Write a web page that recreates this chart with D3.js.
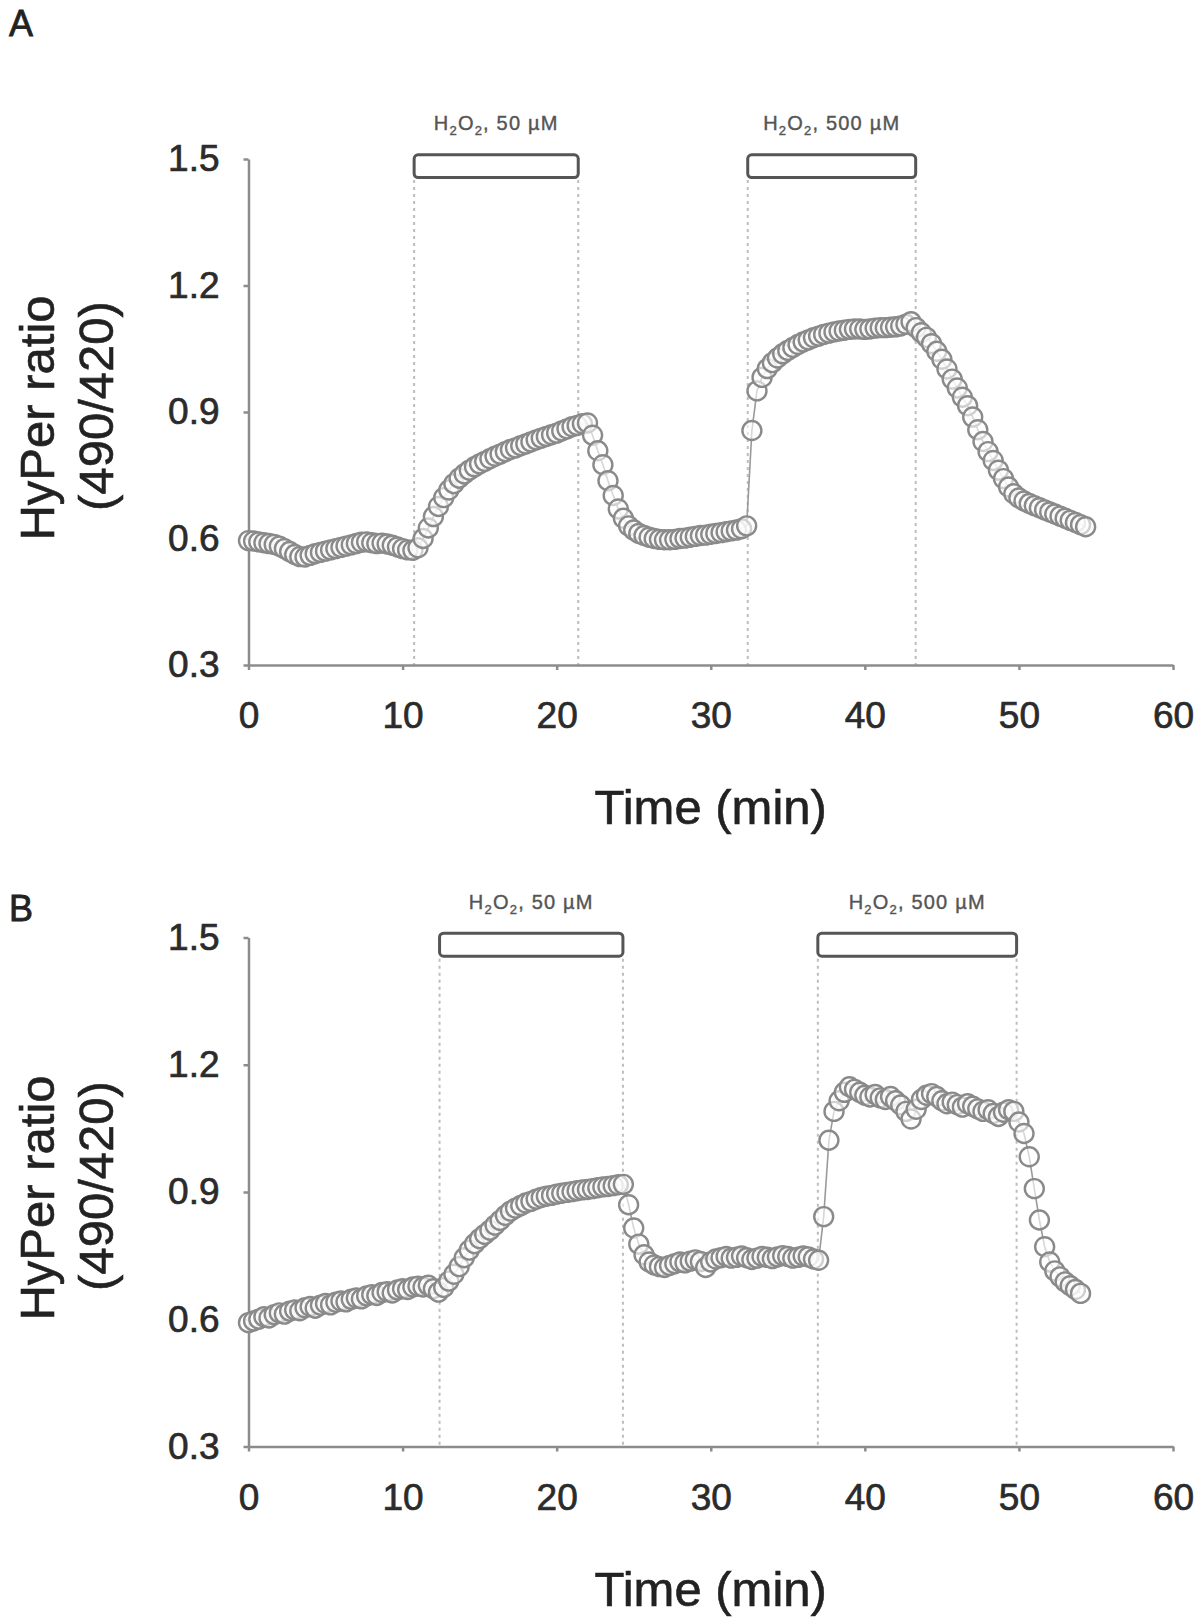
<!DOCTYPE html>
<meta charset="utf-8">
<head>
	<style>
		html, body { margin: 0; background: white; }
		body { font-family: Arial, "Liberation Sans", sans-serif; }
		.axis path, .axis line { stroke: #8c8c8c; stroke-width: 2.5; }
		.axis text { font-size: 37px; fill: #2b2b2b; stroke: #2b2b2b; stroke-width: 0.7; font-family: Arial, "Liberation Sans", sans-serif; }
		.title { font-size: 49px; fill: #222; stroke: #222; stroke-width: 0.6; }
		.panelLabel { font-size: 36px; fill: #222; stroke: #222; stroke-width: 0.8; }
		.drug { font-size: 20px; fill: #555; stroke: #555; stroke-width: 0.4; letter-spacing: 1.2px; }
		.bar { fill: white; stroke: #555; stroke-width: 3; }
		.guide { stroke: #bdbdbd; stroke-width: 2; stroke-dasharray: 3,4; }
		.trace { fill: none; stroke: #9a9a9a; stroke-width: 1.6; }
		.dot { fill: white; fill-opacity: 0.6; stroke: #8a8a8a; stroke-width: 2.4; }
	</style>
	<script src="https://d3js.org/d3.v7.min.js"></script>
</head>
<body>
<script>

// DATA
var xTicks = [0, 10, 20, 30, 40, 50, 60];
var yTicks = [0.3, 0.6, 0.9, 1.2, 1.5];
var panelNames = ["A", "B"];

// [time (min), HyPer ratio]
var pointsA = [
	[0,0.595],[0.33,0.594],[0.67,0.592],[1,0.59],[1.33,0.588],[1.67,0.586],[2,0.582],[2.33,0.576],[2.67,0.569],[3,0.562],
	[3.33,0.557],[3.67,0.556],[4,0.56],[4.33,0.564],[4.67,0.567],[5,0.57],[5.33,0.573],[5.67,0.576],[6,0.579],[6.33,0.582],
	[6.67,0.585],[7,0.588],[7.33,0.591],[7.67,0.592],[8,0.59],[8.33,0.588],[8.67,0.589],[9,0.587],[9.33,0.584],[9.67,0.58],
	[10,0.576],[10.33,0.573],[10.67,0.572],[11,0.578],[11.33,0.6],[11.67,0.625],[12,0.652],[12.33,0.676],[12.67,0.697],[13,0.715],
	[13.33,0.73],[13.67,0.743],[14,0.753],[14.33,0.762],[14.67,0.77],[15,0.777],[15.33,0.783],[15.67,0.789],[16,0.795],[16.33,0.8],
	[16.67,0.806],[17,0.811],[17.33,0.815],[17.67,0.82],[18,0.824],[18.33,0.829],[18.67,0.834],[19,0.838],[19.33,0.842],[19.67,0.846],
	[20,0.85],[20.33,0.855],[20.67,0.86],[21,0.865],[21.33,0.868],[21.67,0.872],[22,0.874],[22.33,0.845],[22.67,0.808],[23,0.775],
	[23.33,0.737],[23.67,0.702],[24,0.67],[24.33,0.648],[24.67,0.63],[25,0.62],[25.33,0.612],[25.67,0.607],[26,0.603],[26.33,0.6],
	[26.67,0.598],[27,0.597],[27.33,0.597],[27.67,0.598],[28,0.6],[28.33,0.601],[28.67,0.603],[29,0.605],[29.33,0.607],[29.67,0.608],
	[30,0.61],[30.33,0.612],[30.67,0.614],[31,0.616],[31.33,0.618],[31.67,0.62],[32,0.623],[32.33,0.63],[32.67,0.856],[33,0.95],
	[33.33,0.982],[33.67,1.003],[34,1.017],[34.33,1.028],[34.67,1.038],[35,1.046],[35.33,1.053],[35.67,1.06],[36,1.066],[36.33,1.071],
	[36.67,1.076],[37,1.08],[37.33,1.084],[37.67,1.087],[38,1.09],[38.33,1.092],[38.67,1.094],[39,1.096],[39.33,1.097],[39.67,1.097],
	[40,1.096],[40.33,1.097],[40.67,1.099],[41,1.1],[41.33,1.1],[41.67,1.101],[42,1.102],[42.33,1.104],[42.67,1.108],[43,1.114],
	[43.33,1.1],[43.67,1.088],[44,1.077],[44.33,1.062],[44.67,1.044],[45,1.025],[45.33,1.002],[45.67,0.978],[46,0.957],[46.33,0.935],
	[46.67,0.915],[47,0.888],[47.33,0.858],[47.67,0.83],[48,0.806],[48.33,0.785],[48.67,0.762],[49,0.742],[49.33,0.722],[49.67,0.706],
	[50,0.696],[50.33,0.689],[50.67,0.683],[51,0.678],[51.33,0.673],[51.67,0.668],[52,0.663],[52.33,0.658],[52.67,0.653],[53,0.648],
	[53.33,0.643],[53.67,0.638],[54,0.633],[54.33,0.628]
];

var pointsB = [
	[0,0.592],[0.33,0.596],[0.67,0.6],[1,0.606],[1.33,0.603],[1.67,0.611],[2,0.615],[2.33,0.612],[2.67,0.619],[3,0.622],
	[3.33,0.62],[3.67,0.627],[4,0.63],[4.33,0.626],[4.67,0.633],[5,0.637],[5.33,0.634],[5.67,0.64],[6,0.643],[6.33,0.641],
	[6.67,0.647],[7,0.65],[7.33,0.648],[7.67,0.655],[8,0.658],[8.33,0.656],[8.67,0.663],[9,0.665],[9.33,0.662],[9.67,0.669],
	[10,0.672],[10.33,0.67],[10.67,0.676],[11,0.678],[11.33,0.676],[11.67,0.68],[12,0.672],[12.33,0.664],[12.67,0.675],[13,0.69],
	[13.33,0.706],[13.67,0.724],[14,0.745],[14.33,0.763],[14.67,0.778],[15,0.79],[15.33,0.8],[15.67,0.81],[16,0.822],[16.33,0.833],
	[16.67,0.845],[17,0.855],[17.33,0.862],[17.67,0.868],[18,0.874],[18.33,0.878],[18.67,0.883],[19,0.887],[19.33,0.89],[19.67,0.892],
	[20,0.895],[20.33,0.897],[20.67,0.899],[21,0.901],[21.33,0.903],[21.67,0.905],[22,0.906],[22.33,0.908],[22.67,0.91],[23,0.912],
	[23.33,0.913],[23.67,0.915],[24,0.917],[24.33,0.918],[24.67,0.87],[25,0.815],[25.33,0.777],[25.67,0.752],[26,0.735],[26.33,0.728],
	[26.67,0.724],[27,0.722],[27.33,0.727],[27.67,0.731],[28,0.735],[28.33,0.733],[28.67,0.737],[29,0.74],[29.33,0.736],[29.67,0.722],
	[30,0.735],[30.33,0.742],[30.67,0.745],[31,0.748],[31.33,0.744],[31.67,0.746],[32,0.749],[32.33,0.745],[32.67,0.741],[33,0.744],
	[33.33,0.748],[33.67,0.746],[34,0.743],[34.33,0.747],[34.67,0.75],[35,0.748],[35.33,0.744],[35.67,0.746],[36,0.749],[36.33,0.747],
	[36.67,0.742],[37,0.739],[37.33,0.842],[37.67,1.022],[38,1.09],[38.33,1.115],[38.67,1.135],[39,1.148],[39.33,1.142],[39.67,1.135],
	[40,1.128],[40.33,1.124],[40.67,1.13],[41,1.122],[41.33,1.118],[41.67,1.125],[42,1.115],[42.33,1.105],[42.67,1.09],[43,1.072],
	[43.33,1.095],[43.67,1.118],[44,1.128],[44.33,1.132],[44.67,1.125],[45,1.115],[45.33,1.108],[45.67,1.112],[46,1.106],[46.33,1.1],
	[46.67,1.108],[47,1.102],[47.33,1.096],[47.67,1.09],[48,1.094],[48.33,1.085],[48.67,1.078],[49,1.088],[49.33,1.094],[49.67,1.09],
	[50,1.065],[50.33,1.038],[50.67,0.983],[51,0.908],[51.33,0.834],[51.67,0.771],[52,0.735],[52.33,0.714],[52.67,0.7],[53,0.688],
	[53.33,0.679],[53.67,0.67],[54,0.661]
];

// H2O2 application windows (min)
var treatmentsA = [
	{ dose: "50 µM", start: 10.75, end: 21.4 },
	{ dose: "500 µM", start: 32.4, end: 43.3 }
];
var treatmentsB = [
	{ dose: "50 µM", start: 12.4, end: 24.3 },
	{ dose: "500 µM", start: 36.95, end: 49.85 }
];

// SETUP
var svg = d3.select('body')
	.append('svg')
	.attr('width', 1200)
	.attr('height', 1624);

var defs = svg.append('defs');
defs.append('filter')
	.attr('id', 'soft')
	.append('feGaussianBlur')
	.attr('stdDeviation', 0.7);

var x = d3.scaleLinear().domain([0, 60]).range([248.5, 1173]);

function drawPanel(name, labelY, top, bottom, points, treatments) {

	var y = d3.scaleLinear().domain([0.3, 1.5]).range([bottom, top]);
	var g = svg.append('g');

	// panel letter
	g.append('text')
		.attr('class', 'panelLabel')
		.attr('x', 9)
		.attr('y', labelY)
		.text(name);

	// treatment bars + guides
	treatments.forEach(function(t) {
		g.append('line')
			.attr('class', 'guide')
			.attr('x1', x(t.start)).attr('x2', x(t.start))
			.attr('y1', y(1.45)).attr('y2', y(0.3));
		g.append('line')
			.attr('class', 'guide')
			.attr('x1', x(t.end)).attr('x2', x(t.end))
			.attr('y1', y(1.45)).attr('y2', y(0.3));

		g.append('rect')
			.attr('class', 'bar')
			.attr('x', x(t.start))
			.attr('y', y(1.51))
			.attr('width', x(t.end) - x(t.start))
			.attr('height', y(1.456) - y(1.51))
			.attr('rx', 4)
			.attr('filter', 'url(#soft)');

		var lab = g.append('text')
			.attr('class', 'drug')
			.attr('text-anchor', 'middle')
			.attr('x', (x(t.start) + x(t.end)) / 2)
			.attr('y', top - 29);
		lab.append('tspan').text('H');
		lab.append('tspan').attr('dy', 5).attr('font-size', 13).text('2');
		lab.append('tspan').attr('dy', -5).text('O');
		lab.append('tspan').attr('dy', 5).attr('font-size', 13).text('2');
		lab.append('tspan').attr('dy', -5).text(', ' + t.dose);
	});

	// axes
	g.append('g')
		.attr('class', 'axis')
		.attr('transform', 'translate(0,' + y(0.3) + ')')
		.call(d3.axisBottom(x).tickValues(xTicks).tickSize(5).tickSizeOuter(0).tickPadding(32));

	g.append('g')
		.attr('class', 'axis')
		.attr('transform', 'translate(' + x(0) + ',0)')
		.call(d3.axisLeft(y).tickValues(yTicks).tickSize(5).tickSizeOuter(0).tickPadding(24)
			.tickFormat(d3.format('.1f')));

	// trace
	var line = d3.line()
		.x(function(d) { return x(d[0]); })
		.y(function(d) { return y(d[1]); });

	var marks = g.append('g').attr('filter', 'url(#soft)');

	marks.append('path')
		.datum(points)
		.attr('class', 'trace')
		.attr('d', line);

	marks.selectAll('.dot')
		.data(points)
		.enter().append('circle')
		.attr('class', 'dot')
		.attr('cx', function(d) { return x(d[0]); })
		.attr('cy', function(d) { return y(d[1]); })
		.attr('r', 9.5);

	// axis titles
	g.append('text')
		.attr('class', 'title')
		.attr('text-anchor', 'middle')
		.attr('x', x(30))
		.attr('y', bottom + 159)
		.text('Time (min)');

	var mid = (top + bottom) / 2;
	g.append('text')
		.attr('class', 'title')
		.attr('text-anchor', 'middle')
		.attr('transform', 'translate(54,' + (mid + 6) + ') rotate(-90)')
		.text('HyPer ratio');
	g.append('text')
		.attr('class', 'title')
		.attr('text-anchor', 'middle')
		.attr('transform', 'translate(113,' + (mid - 6) + ') rotate(-90)')
		.text('(490/420)');
}

// START!
drawPanel(panelNames[0], 36, 159, 665, pointsA, treatmentsA);
drawPanel(panelNames[1], 921, 937.5, 1446.5, pointsB, treatmentsB);

</script>
</body>
